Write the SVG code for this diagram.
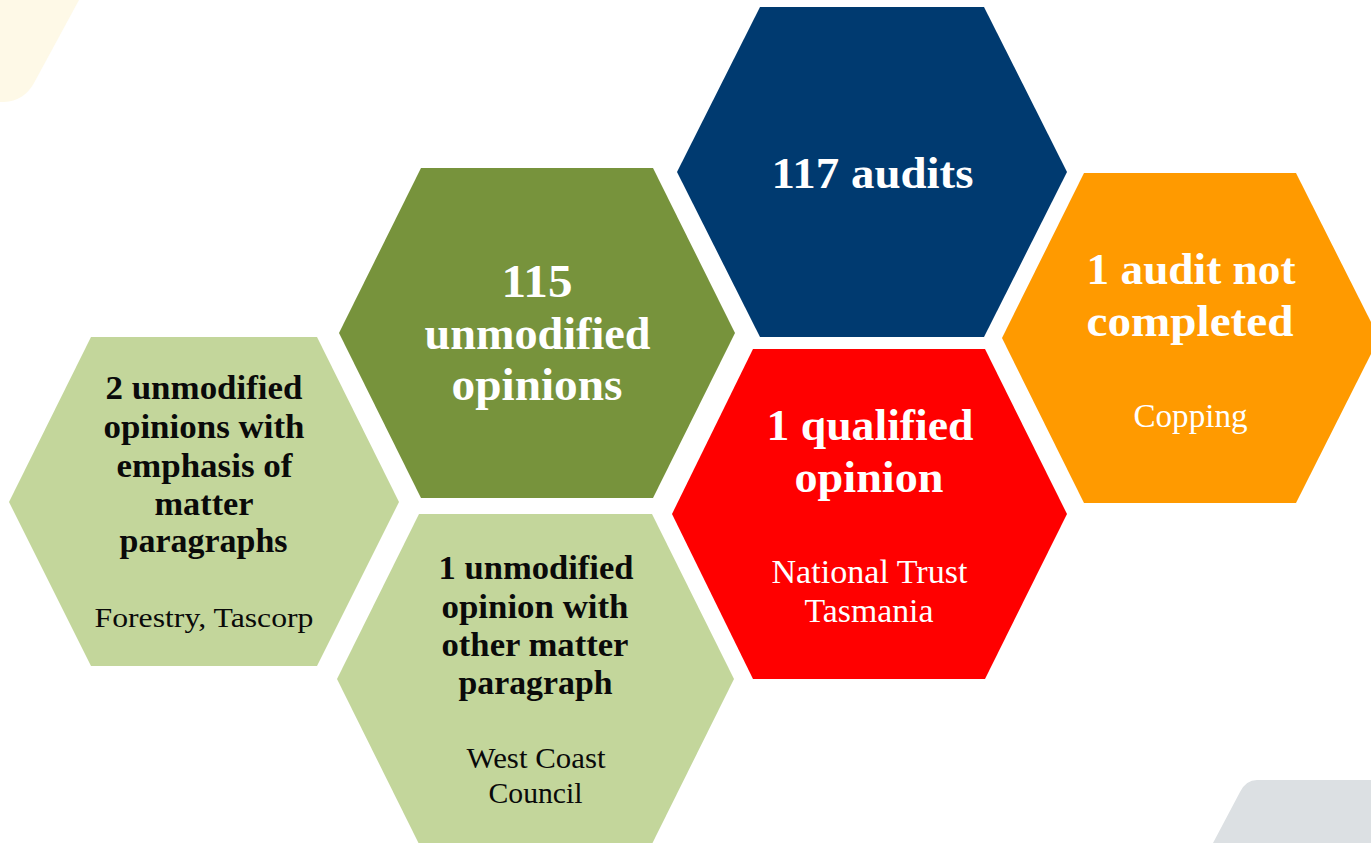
<svg xmlns="http://www.w3.org/2000/svg" width="1371" height="843" viewBox="0 0 1371 843">
  <style>
    .t { font-family: "Liberation Serif", "Times New Roman", serif; text-anchor: middle; }
    .b { font-weight: bold; }
    .w { fill: #ffffff; }
    .k { fill: #0a0a0a; }
    .navy { fill: #003a70; }
    .green { fill: #77933c; }
    .pale { fill: #c3d69b; }
    .red { fill: #ff0000; }
    .orange { fill: #ff9a00; }
  </style>

  <rect width="1371" height="843" fill="#ffffff"/>

  <!-- corner decorations -->
  <path d="M0,0 H79 L34,83 Q24,101 4,102 H0 Z" fill="#fef9e7"/>
  <path d="M1371,780 H1257 Q1246,780 1240,792 L1213,843 H1371 Z" fill="#dce0e3"/>

  <!-- total -->
  <g id="node-total">
    <polygon class="navy" points="677,172 760,7 984,7 1067,172 984,337 760,337"/>
    <text class="t b w" x="872.5" y="188" font-size="45" textLength="202" lengthAdjust="spacingAndGlyphs">117 audits</text>
  </g>

  <!-- unmodified -->
  <g id="node-unmodified">
    <polygon class="green" points="339,333 421,168 653,168 735,333 653,498 421,498"/>
    <g class="t b w" font-size="46">
      <text x="537" y="297" textLength="71" lengthAdjust="spacingAndGlyphs">115</text>
      <text x="537.5" y="349" textLength="226" lengthAdjust="spacingAndGlyphs">unmodified</text>
      <text x="537" y="400" textLength="171" lengthAdjust="spacingAndGlyphs">opinions</text>
    </g>
  </g>

  <!-- qualified -->
  <g id="node-qualified">
    <polygon class="red" points="672,514 753,349 985,349 1067,514 985,679 753,679"/>
    <g class="t b w" font-size="44">
      <text x="870" y="440" textLength="207" lengthAdjust="spacingAndGlyphs">1 qualified</text>
      <text x="869" y="492" textLength="149" lengthAdjust="spacingAndGlyphs">opinion</text>
    </g>
    <g class="t w" font-size="33">
      <text x="869.5" y="583" textLength="196" lengthAdjust="spacingAndGlyphs">National Trust</text>
      <text x="869" y="622" textLength="129" lengthAdjust="spacingAndGlyphs">Tasmania</text>
    </g>
  </g>

  <!-- not completed -->
  <g id="node-not-completed">
    <polygon class="orange" points="1002,338 1084,173 1296,173 1379,338 1296,503 1084,503"/>
    <g class="t b w" font-size="44">
      <text x="1191" y="284" textLength="209" lengthAdjust="spacingAndGlyphs">1 audit not</text>
      <text x="1190" y="336" textLength="207" lengthAdjust="spacingAndGlyphs">completed</text>
    </g>
    <text class="t w" x="1190.5" y="427" font-size="34" textLength="114" lengthAdjust="spacingAndGlyphs">Copping</text>
  </g>

  <!-- emphasis of matter -->
  <g id="node-emphasis">
    <polygon class="pale" points="9,502 91,337 317,337 399,502 317,666 91,666"/>
    <g class="t b k" font-size="34">
      <text x="204" y="399" textLength="197" lengthAdjust="spacingAndGlyphs">2 unmodified</text>
      <text x="204" y="438" textLength="201" lengthAdjust="spacingAndGlyphs">opinions with</text>
      <text x="204.5" y="477" textLength="176" lengthAdjust="spacingAndGlyphs">emphasis of</text>
      <text x="204" y="515" textLength="99" lengthAdjust="spacingAndGlyphs">matter</text>
      <text x="203.5" y="552" textLength="168" lengthAdjust="spacingAndGlyphs">paragraphs</text>
    </g>
    <text class="t k" x="204" y="627" font-size="28" textLength="219" lengthAdjust="spacingAndGlyphs">Forestry, Tascorp</text>
  </g>

  <!-- other matter -->
  <g id="node-other-matter">
    <polygon class="pale" points="337,679 419,514 652,514 734,679 652,844 419,844"/>
    <g class="t b k" font-size="34">
      <text x="536" y="579" textLength="195" lengthAdjust="spacingAndGlyphs">1 unmodified</text>
      <text x="535" y="618" textLength="187" lengthAdjust="spacingAndGlyphs">opinion with</text>
      <text x="535" y="656" textLength="187" lengthAdjust="spacingAndGlyphs">other matter</text>
      <text x="535.5" y="694" textLength="154" lengthAdjust="spacingAndGlyphs">paragraph</text>
    </g>
    <g class="t k" font-size="29">
      <text x="536" y="768" textLength="139" lengthAdjust="spacingAndGlyphs">West Coast</text>
      <text x="535.5" y="803" textLength="94" lengthAdjust="spacingAndGlyphs">Council</text>
    </g>
  </g>
</svg>
